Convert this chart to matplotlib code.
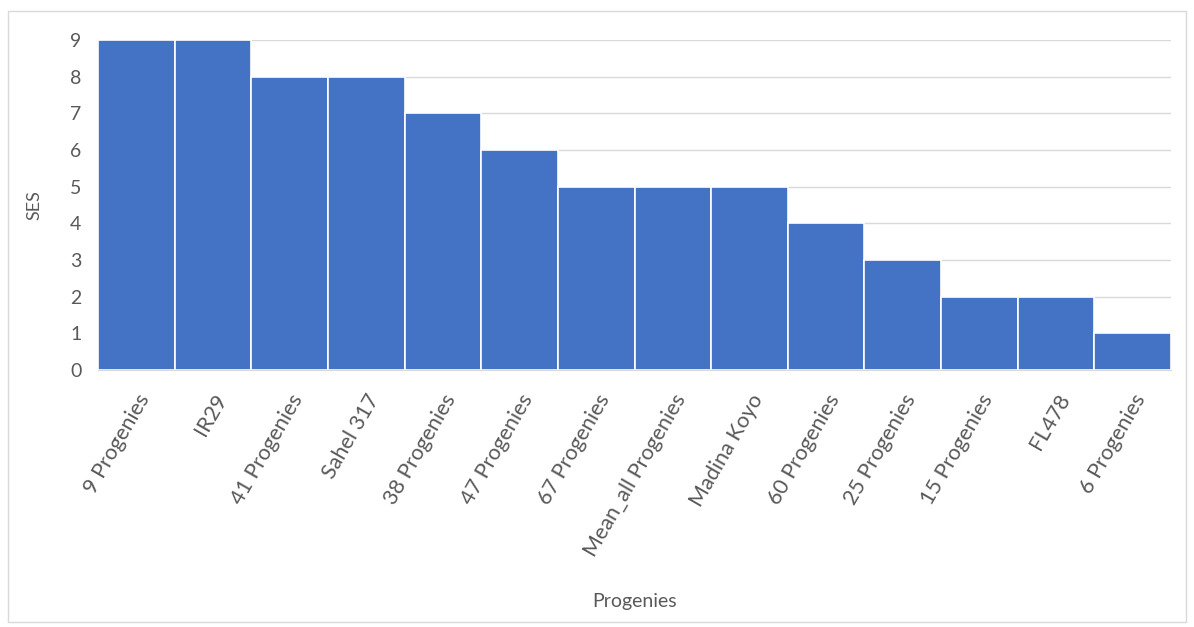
import matplotlib.pyplot as plt
from matplotlib.patches import Rectangle

categories = ["9 Progenies", "IR29", "41 Progenies", "Sahel 317", "38 Progenies",
              "47 Progenies", "67 Progenies", "Mean_all Progenies", "Madina Koyo",
              "60 Progenies", "25 Progenies", "15 Progenies", "FL478", "6 Progenies"]
ses = [9, 9, 8, 8, 7, 6, 5, 5, 5, 4, 3, 2, 2, 1]

plt.rcParams["font.family"] = ["Lato", "DejaVu Sans"]
text_color = "#595959"

fig = plt.figure(figsize=(11.94, 6.27), dpi=100)
fig.patches.append(Rectangle((8 / 1194, 5 / 627), 1178 / 1194, 611 / 627,
                             transform=fig.transFigure, facecolor="none",
                             edgecolor="#d9d9d9", linewidth=1.0))

ax = fig.add_axes([98 / 1194, 1 - 370 / 627, 1073 / 1194, 330 / 627])
x = range(len(categories))
ax.bar(x, ses, width=1.0, color="#4472C4", edgecolor="white", linewidth=1.2, zorder=3)

ax.set_xlim(-0.5, len(categories) - 0.5)
ax.set_ylim(0, 9)
ax.set_yticks(range(0, 10))
ax.set_xticks(list(x))
ax.set_xticklabels(categories, rotation=60, ha="right", rotation_mode="anchor",
                   fontsize=15.5, color=text_color)
ax.tick_params(axis="y", length=0, labelsize=14, labelcolor=text_color, pad=12)
ax.tick_params(axis="x", length=0, pad=15)
ax.grid(axis="y", color="#d9d9d9", linewidth=1.0, zorder=0)
for side in ["top", "right", "left"]:
    ax.spines[side].set_visible(False)
ax.spines["bottom"].set_color("#d9d9d9")

ax.set_ylabel("SES", fontsize=13, color=text_color, labelpad=20)
fig.text(0.5 * (98 + 1171) / 1194, 1 - 602 / 627, "Progenies", fontsize=14,
         color=text_color, ha="center", va="center")

fig.savefig("out.png", dpi=100)
